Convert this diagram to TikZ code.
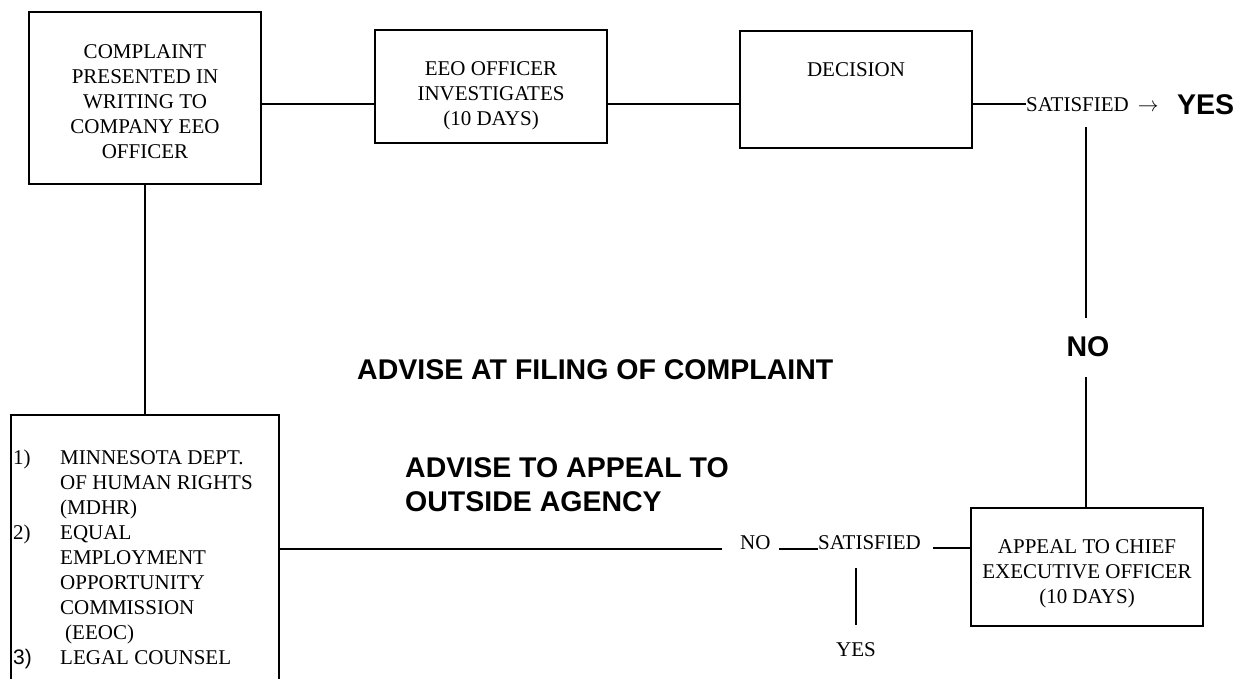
\documentclass[tikz,border=0pt]{standalone}
\usepackage{fontspec}
\setmainfont{Liberation Serif}
\newfontfamily\arialfont{Liberation Sans}
\begin{document}
\begin{tikzpicture}[x=1pt,y=-1pt,
  boxline/.style={draw, line width=2.4pt, inner sep=0pt},
  conn/.style={line width=2.4pt},
  thin conn/.style={line width=1.8pt},
  txt/.style={font=\fontsize{21}{25}\selectfont, align=center, inner sep=0pt},
  big/.style={font=\arialfont\bfseries\fontsize{28.5}{34}\selectfont, align=left, inner sep=0pt}]
\useasboundingbox (0,0) rectangle (1243,679);
% boxes
\node[boxline, minimum width=232pt, minimum height=172pt] (box1) at (145,98) {};
\node[boxline, minimum width=232pt, minimum height=113pt] (box2) at (491,86.5) {};
\node[boxline, minimum width=232pt, minimum height=117pt] (box3) at (856,89.5) {};
\node[boxline, minimum width=232pt, minimum height=118pt] (box4) at (1087,567) {};
\node[boxline, minimum width=268pt, minimum height=290pt] (box5) at (145,560) {};
\coordinate (b1e) at (box1.east |- 0,104);
\coordinate (b2w) at (box2.west |- 0,104);
\coordinate (b2e) at (box2.east |- 0,104);
\coordinate (b3w) at (box3.west |- 0,104);
\coordinate (b3e) at (box3.east |- 0,104);
\coordinate (b4n) at (box4.north -| 1086,0);
\coordinate (b4w) at (box4.west |- 0,548);
\coordinate (b5e) at (box5.east |- 0,549);
% texts in boxes
\node[txt] (t1) at (145,102) {COMPLAINT\\PRESENTED IN\\WRITING TO\\COMPANY EEO\\OFFICER};
\node[txt] (t2) at (491,96) {EEO OFFICER\\INVESTIGATES\\(10 DAYS)};
\node[txt] (t3) at (856,70) {DECISION};
\node[txt] (t4) at (1087,574) {APPEAL TO CHIEF\\EXECUTIVE OFFICER\\(10 DAYS)};
\node[txt, align=left, anchor=north west] (t5) at (13,450) {%
\makebox[47pt][l]{1)}MINNESOTA DEPT.\\
\hspace*{47pt}OF HUMAN RIGHTS\\
\hspace*{47pt}(MDHR)\\
\makebox[47pt][l]{2)}EQUAL\\
\hspace*{47pt}EMPLOYMENT\\
\hspace*{47pt}OPPORTUNITY\\
\hspace*{47pt}COMMISSION\\
\hspace*{52pt}(EEOC)\\
\makebox[47pt][l]{\arialfont 3)}LEGAL COUNSEL};
% top right labels
\node[txt, anchor=base west] (sat1) at (1026,112) {SATISFIED\hspace{9pt}$\rightarrow$};
\node[big, anchor=west] (yes1) at (1177,105) {YES};
\node[big] (no1) at (1088,347) {NO};
\coordinate (v1a) at (1086,127); \coordinate (v1b) at (1086,318); \coordinate (v1c) at (1086,377);
% middle labels
\node[big, anchor=west] (adv1) at (357,370) {ADVISE AT FILING OF COMPLAINT};
\node[big, anchor=west] (adv2) at (405,485) {ADVISE TO APPEAL TO\\OUTSIDE AGENCY};
% bottom row labels
\node[txt, anchor=west] (no2) at (740,543) {NO};
\node[txt, anchor=west] (sat2) at (818,543) {SATISFIED};
\node[txt] (yes2) at (856,650) {YES};
\coordinate (l1) at (722,549); \coordinate (u1) at (779,549);
\coordinate (r1) at (933,548);
\coordinate (v2a) at (856,568); \coordinate (v2b) at (856,625);
% connectors
\draw[conn] (b1e) -- (b2w);
\draw[conn] (b2e) -- (b3w);
\draw[conn] (b3e) -- (sat1.west |- b3e);
\draw[conn] (box1.south) -- (box5.north);
\draw[conn] (v1a) -- (v1b);
\draw[conn] (v1c) -- (b4n);
\draw[thin conn] (b5e) -- (l1);
\draw[thin conn] (u1) -- (sat2.west |- u1);
\draw[conn] (r1) -- (b4w);
\draw[conn] (v2a) -- (v2b);
\end{tikzpicture}
\end{document}
